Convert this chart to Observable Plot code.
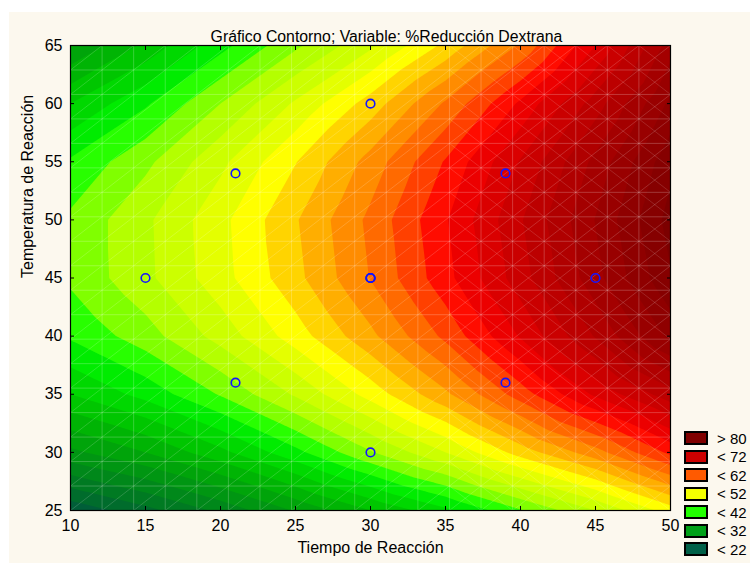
<!DOCTYPE html>
<html><head><meta charset="utf-8">
<script src="https://cdn.jsdelivr.net/npm/d3@7"></script>
<script src="https://cdn.jsdelivr.net/npm/@observablehq/plot@0.6"></script>
<style>
body{margin:0;background:#fff;}
#wrap{position:relative;width:750px;height:563px;overflow:hidden;background:#fff;}
#bg{position:absolute;left:9px;top:12px;right:0;bottom:0;background:#FCF8EE;}
#chart{position:absolute;left:0;top:0;}
#legend{position:absolute;left:684px;top:431px;font-family:'Liberation Sans',Arial,sans-serif;font-size:15px;color:#000;}
.row{position:absolute;left:0;height:14px;display:flex;align-items:center;white-space:nowrap;}
.sw{width:20px;height:10px;border:2px solid #000;margin-right:9px;}
</style></head><body>
<div id="wrap"><div id="bg"></div><div id="chart"></div><div id="legend"></div></div>
<script>
// Grid of the response surface (rows = temperature, cols = time)
const xGrid = [10, 15, 20, 25, 30, 35, 40, 45, 50];
const yGrid = [25, 30, 35, 40, 45, 50, 55, 60, 65];
const zRows = [
  [20.5, 23.3, 26.5, 30.2, 34.0, 37.5, 41.8, 46.0, 51.0],
  [29.5, 32.0, 35.4, 39.4, 43.8, 48.0, 52.9, 57.2, 62.5],
  [36.0, 38.7, 42.2, 46.3, 50.8, 55.6, 61.0, 66.4, 71.2],
  [40.3, 43.1, 46.8, 51.0, 55.5, 60.5, 66.2, 72.2, 78.5],
  [42.4, 45.5, 49.2, 53.4, 58.1, 63.3, 69.1, 75.3, 81.8],
  [42.4, 45.6, 49.4, 53.8, 58.5, 63.8, 69.8, 76.1, 82.8],
  [40.3, 43.5, 47.5, 51.9, 56.8, 62.2, 68.2, 74.6, 81.4],
  [36.0, 39.7, 44.0, 48.3, 52.9, 58.3, 64.4, 71.0, 78.5],
  [30.0, 34.5, 39.3, 43.6, 47.6, 52.5, 58.3, 66.0, 75.0]
];
// Experimental design points (blue circles)
const designX = [15, 21, 21, 30, 30, 30, 30, 30, 39, 39, 45];
const designY = [45, 54, 36, 60, 45, 45, 45, 30, 54, 36, 45];
// Axis ticks
const xTicks = [10, 15, 20, 25, 30, 35, 40, 45, 50];
const yTicks = [25, 30, 35, 40, 45, 50, 55, 60, 65];
// Contour levels
const levels = [16,18,20,22,24,26,28,30,32,34,36,38,40,42,44,46,48,50,52,54,56,58,60,62,64,66,68,70,72,74,76,78,80,82,84,86,88,90];
const colorStops = [18,20,22,24,26,28,30,32,34,36,38,40,42,44,46,48,50,52,54,56,58,60,62,64,66,68,70,72,74,76,78,80,82,84];
const colorRange = ["#00543A","#005E38","#006C2C","#007A22","#00881A","#009612","#00A40A","#00B404","#00C600","#00D800","#00EC00","#28FF00","#80FF00","#B4FF00","#CCFF00","#E4FF00","#FFFF00","#FFD400","#FFAE00","#FF8C00","#FF6A00","#FF4000","#FF0C00","#EC0000","#DA0000","#CA0000","#BC0000","#B00000","#A40000","#990000","#8F0000","#860000","#7C0000","#740000"];
// Legend
const legendLabels = ["> 80", "< 72", "< 62", "< 52", "< 42", "< 32", "< 22"];
const legendColors = ["#800000", "#CC0000", "#FF5A00", "#F4FF00", "#22FF00", "#00A018", "#006048"];
const titleText = "Gráfico Contorno; Variable: %Reducción Dextrana";
const xTitle = "Tiempo de Reacción";
const yTitle = "Temperatura de Reacción";

const grid = [];
yGrid.forEach((y, i) => xGrid.forEach((x, j) => grid.push({x, y, z: zRows[i][j]})));
const pts = designX.map((x, i) => ({x, y: designY[i]}));

// surface mesh (decoration)
const nMesh = 19, step = 40 / nMesh;
const meshX = d3.range(1, nMesh).map(k => 10 + k * step);
const meshY = d3.range(1, nMesh).map(k => 25 + k * step);
const cells = [];
for (let i = 0; i < nMesh; i++) for (let j = 0; j < nMesh; j++) cells.push({x0: 10 + i * step, y0: 25 + j * step});

const font = "'Liberation Sans', Arial, sans-serif";
const chart = Plot.plot({
  width: 750, height: 563,
  marginTop: 45, marginRight: 80, marginBottom: 53, marginLeft: 70,
  style: {background: "transparent", fontFamily: font, fontSize: "16px", color: "#000", overflow: "visible"},
  x: {domain: [10, 50]},
  y: {domain: [25, 65]},
  color: {type: "linear", domain: colorStops, range: colorRange, clamp: true},
  marks: [
    Plot.contour(grid, {x: "x", y: "y", fill: "z", thresholds: levels, interpolate: "barycentric", pixelSize: 1, x1: 10, x2: 50, y1: 25, y2: 65}),
    Plot.gridX(meshX, {stroke: "#fff", strokeOpacity: 0.22, strokeWidth: 1}),
    Plot.gridY(meshY, {stroke: "#fff", strokeOpacity: 0.22, strokeWidth: 1}),
    Plot.link(cells, {x1: "x0", y1: "y0", x2: d => d.x0 + step, y2: d => d.y0 + step, stroke: "#fff", strokeOpacity: 0.17, strokeWidth: 1}),
    Plot.link(cells.filter(d => d.x0 >= 34), {x1: "x0", y1: d => d.y0 + step, x2: d => d.x0 + step, y2: "y0", stroke: "#fff", strokeOpacity: 0.14, strokeWidth: 1}),
    Plot.frame({stroke: "#000", strokeWidth: 1.2}),
    Plot.axisX(xTicks, {anchor: "bottom", tickSize: 0, tickPadding: 9, label: null}),
    Plot.axisX(xTicks, {anchor: "bottom", tickSize: -4, tickFormat: () => "", label: null}),
    Plot.axisX(xTicks, {anchor: "top", tickSize: -4, tickFormat: () => "", label: null}),
    Plot.axisY(yTicks, {anchor: "left", tickSize: 0, tickPadding: 8, label: null}),
    Plot.axisY(yTicks, {anchor: "left", tickSize: -4, tickFormat: () => "", label: null}),
    Plot.axisY(yTicks, {anchor: "right", tickSize: -4, tickFormat: () => "", label: null}),
    Plot.dot(pts, {x: "x", y: "y", r: 4.3, stroke: "#1414FF", strokeWidth: 1.6, fill: "none"}),
    Plot.text([titleText], {frameAnchor: "top", dy: -15, dx: 16, fontSize: 15.8, text: d => d}),
    Plot.text([xTitle], {frameAnchor: "bottom", dy: 42, fontSize: 16, text: d => d}),
    Plot.text([yTitle], {frameAnchor: "left", dx: -43, rotate: -90, fontSize: 16, text: d => d})
  ]
});
document.getElementById("chart").appendChild(chart);

const legend = document.getElementById("legend");
legendLabels.forEach((lab, i) => {
  const row = document.createElement("div");
  row.className = "row";
  row.style.top = (i * 18.5) + "px";
  const sw = document.createElement("div");
  sw.className = "sw";
  sw.style.background = legendColors[i];
  const t = document.createElement("span");
  t.textContent = lab;
  row.appendChild(sw); row.appendChild(t);
  legend.appendChild(row);
});
</script>
</body></html>
